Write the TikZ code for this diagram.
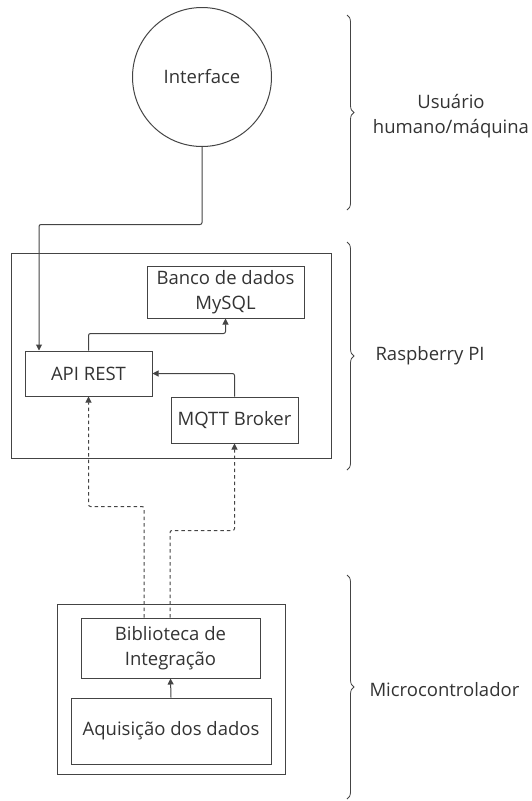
\documentclass[tikz,border=0pt]{standalone}
\usepackage{fontspec}
\setmainfont{Open Sans}
\usetikzlibrary{arrows.meta,decorations.pathreplacing}
\definecolor{linec}{HTML}{444444}
\definecolor{textc}{HTML}{333333}
\begin{document}
\begin{tikzpicture}[x=1pt,y=-1pt,
  every node/.style={text=textc,font=\fontsize{18.5}{25}\selectfont},
  box/.style={draw=linec,line width=1pt,rectangle,inner sep=0pt,align=center},
  arr/.style={draw=linec,line width=1pt,rounded corners=2pt,-{Triangle[length=6pt,width=6pt]}},
  darr/.style={arr,dash pattern=on 3.5pt off 3pt},
  bracestyle/.style={draw=linec,line width=0.8pt,decorate,decoration={brace,amplitude=7pt}}]
\useasboundingbox (0,0) rectangle (531,801);
% nodes
\node[box,circle,minimum size=139pt] (iface) at (202,77) {Interface};
\node[box,minimum width=320pt,minimum height=205pt] (rasp) at (171,355.5) {};
\node[box,minimum width=157pt,minimum height=52pt] (banco) at (225.5,292) {Banco de dados\\MySQL};
\node[box,minimum width=127pt,minimum height=45pt] (api) at (88.5,373.5) {API REST};
\node[box,minimum width=127pt,minimum height=46pt] (mqtt) at (234.5,420) {MQTT Broker};
\node[box,minimum width=228pt,minimum height=170pt] (micro) at (171,689) {};
\node[box,minimum width=179pt,minimum height=60pt] (bib) at (170.5,648) {Biblioteca de\\Integração};
\node[box,minimum width=200pt,minimum height=66pt] (aq) at (171,731) {Aquisição dos dados};
% labels
\node[align=center] (lusr) at (451,116) {Usuário\\humano/máquina};
\node[anchor=west] (lrasp) at (372,356) {Raspberry PI};
\node[anchor=west] (lmicro) at (366,690) {Microcontrolador};
% braces
\coordinate (b1a) at (347,15); \coordinate (b1b) at (347,210);
\coordinate (b2a) at (347,242); \coordinate (b2b) at (347,470);
\coordinate (b3a) at (347,575); \coordinate (b3b) at (347,799);
\draw[bracestyle] (b1a) -- (b1b);
\draw[bracestyle] (b2a) -- (b2b);
\draw[bracestyle] (b3a) -- (b3b);
% connectors
\draw[arr] (iface.south) -- ++(0,77.5) -| ([xshift=-49.5pt]api.north);
\draw[arr] (api.north) -- ++(0,-17) -| (banco.south);
\draw[arr] (mqtt.north) |- (api.east);
\draw[darr] ([xshift=-26.5pt]bib.north) -- ++(0,-111) -| (api.south);
\draw[darr] ([xshift=-0.5pt]bib.north) -- ++(0,-87) -| (mqtt.south);
\draw[arr] (aq.north) -- (bib.south);
\end{tikzpicture}
\end{document}
